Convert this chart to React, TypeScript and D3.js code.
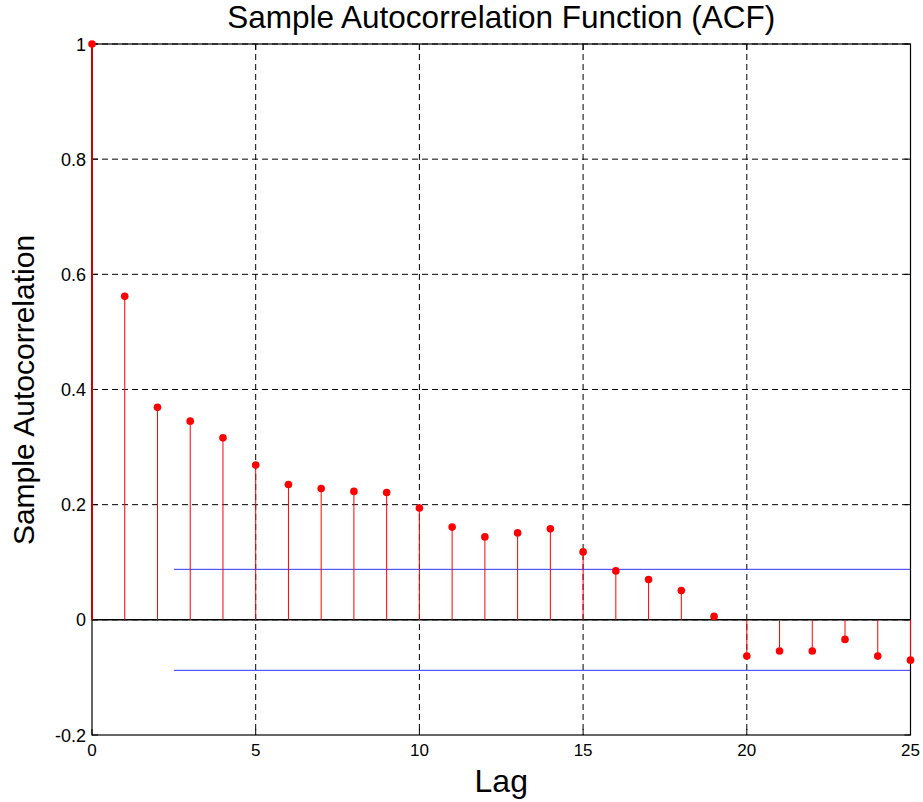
import React from "react";
import * as d3 from "d3";

const lags = Array.from({ length: 26 }, (_, i) => i);
const acfValues = [
  1.0, 0.562, 0.369, 0.345, 0.316, 0.269, 0.235, 0.228, 0.223, 0.221, 0.194,
  0.161, 0.144, 0.151, 0.158, 0.118, 0.085, 0.07, 0.051, 0.006, -0.063, -0.054,
  -0.054, -0.034, -0.063, -0.07,
];
const bound = 0.0877;
const boundStart = 2.5;
const xTicks = [0, 5, 10, 15, 20, 25];
const yTicks = [-0.2, 0, 0.2, 0.4, 0.6, 0.8, 1];

export default function App() {
  const W = 923, H = 802;
  const left = 92, right = 910.5, top = 44, bottom = 735;
  const x = d3.scaleLinear().domain([0, 25]).range([left, right]);
  const y = d3.scaleLinear().domain([-0.2, 1]).range([bottom, top]);
  const font = "'Liberation Sans', Arial, sans-serif";
  const fmt = (v: number) => (v === 0 ? "0" : String(+v.toFixed(1)));

  return (
    <svg width={W} height={H} style={{ position: "absolute", left: 0, top: 0 }}>
      <rect x={0} y={0} width={W} height={H} fill="#fff" />
      {/* grid */}
      {xTicks.filter(t => t > 0 && t < 25).map(t => (
        <line key={"gx" + t} x1={x(t)} x2={x(t)} y1={top} y2={bottom}
          stroke="#000" strokeWidth={1} strokeDasharray="6,4" />
      ))}
      {yTicks.filter(t => t > -0.2).map(t => (
        <line key={"gy" + t} x1={left} x2={right} y1={y(t)} y2={y(t)}
          stroke="#000" strokeWidth={1} strokeDasharray="6,4" />
      ))}
      {/* confidence bounds */}
      {[bound, -bound].map((b, i) => (
        <line key={"b" + i} x1={x(boundStart)} x2={x(25)} y1={y(b)} y2={y(b)}
          stroke="#3333ff" strokeWidth={1} />
      ))}
      {/* zero line */}
      <line x1={left} x2={right} y1={y(0)} y2={y(0)} stroke="#000" strokeWidth={1.5} />
      {/* frame */}
      <rect x={left} y={top} width={right - left} height={bottom - top}
        fill="none" stroke="#000" strokeWidth={1.2} />
      {/* ticks */}
      {xTicks.map(t => (
        <g key={"tx" + t}>
          <line x1={x(t)} x2={x(t)} y1={bottom} y2={bottom - 6} stroke="#000" />
          <line x1={x(t)} x2={x(t)} y1={top} y2={top + 6} stroke="#000" />
          <text x={x(t)} y={bottom + 21} fontSize={17} fontFamily={font} textAnchor="middle">{t}</text>
        </g>
      ))}
      {yTicks.map(t => (
        <g key={"ty" + t}>
          <line x1={left} x2={left + 6} y1={y(t)} y2={y(t)} stroke="#000" />
          <line x1={right} x2={right - 6} y1={y(t)} y2={y(t)} stroke="#000" />
          <text x={left - 6} y={y(t) + 6.5} fontSize={18} fontFamily={font} textAnchor="end">{fmt(t)}</text>
        </g>
      ))}
      {/* stems */}
      {lags.map((l, i) => (
        <line key={"s" + l} x1={x(l)} x2={x(l)} y1={y(0)} y2={y(acfValues[i])}
          stroke={l === 0 ? "#cc0000" : "#ff0000"} strokeWidth={l === 0 ? 2 : 1} />
      ))}
      {lags.map((l, i) => (
        <circle key={"c" + l} cx={x(l)} cy={y(acfValues[i])} r={3.8} fill="#ff0000" />
      ))}
      {/* labels */}
      <text x={(left + right) / 2} y={28} fontSize={31.5} fontFamily={font} textAnchor="middle">
        Sample Autocorrelation Function (ACF)
      </text>
      <text x={(left + right) / 2} y={792} fontSize={32} fontFamily={font} textAnchor="middle">Lag</text>
      <text transform={`translate(34, 390) rotate(-90)`} fontSize={30}
        fontFamily={font} textAnchor="middle">Sample Autocorrelation</text>
    </svg>
  );
}
